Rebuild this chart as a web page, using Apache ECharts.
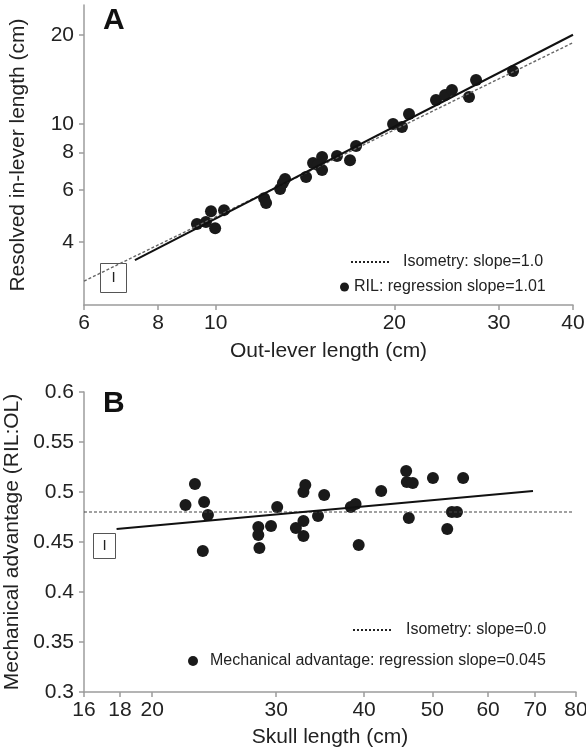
<!DOCTYPE html>
<html>
<head>
<meta charset="utf-8">
<script src="https://cdn.jsdelivr.net/npm/echarts@6/dist/echarts.min.js"></script>
<style>
  html, body { margin: 0; padding: 0; background: #fff; }
  #chart { width: 586px; height: 750px; }
</style>
</head>
<body>
<div id="chart"></div>
<script>
// Panel A: resolved in-lever vs out-lever (log-log)
var outLeverA = [9.30, 9.63, 9.82, 9.98, 10.33, 12.07, 12.16, 12.84, 12.98, 13.09, 14.20, 14.59, 15.11,
  15.11, 14.87, 16.01, 16.84, 17.24, 19.90, 20.60, 21.17, 23.51, 24.35, 25.01, 26.72, 27.46, 31.70];
var inLeverA = [4.60, 4.67, 5.08, 4.45, 5.12, 5.62, 5.41, 6.03, 6.32, 6.52, 6.62, 7.38, 7.73,
  6.99, 7.27, 7.80, 7.55, 8.43, 10.0, 9.77, 10.81, 12.05, 12.53, 13.03, 12.34, 14.08, 15.10];
var isoLineAX = [6, 40];
var isoLineAY = [2.95, 18.8];
var regLineAX = [7.31, 40];
var regLineAY = [3.47, 20.0];
var xTicksA = [6, 8, 10, 20, 30, 40];
var yTicksA = [4, 6, 8, 10, 20];

// Panel B: mechanical advantage vs skull length
var skullB = [22.3, 23.0, 23.7, 24.0, 23.6, 28.3, 28.3, 28.4, 29.5, 30.1, 32.0, 32.8, 32.8, 32.8, 33.0,
  34.4, 35.1, 38.3, 38.9, 39.3, 42.3, 45.9, 46.0, 46.9, 46.3, 50.1, 52.5, 53.3, 54.2, 55.3];
var mechAdvB = [0.487, 0.508, 0.490, 0.477, 0.441, 0.465, 0.457, 0.444, 0.466, 0.485, 0.464, 0.471, 0.456, 0.500, 0.507,
  0.476, 0.497, 0.485, 0.488, 0.447, 0.501, 0.521, 0.510, 0.509, 0.474, 0.514, 0.463, 0.480, 0.480, 0.514];
var isoLineBX = [16, 79];
var isoLineBY = [0.48, 0.48];
var regLineBX = [17.8, 69.5];
var regLineBY = [0.463, 0.501];
var xTicksB = [16, 18, 20, 30, 40, 50, 60, 70, 80];

var FONT = 'Liberation Sans, Arial, sans-serif';
var AXIS_GRAY = '#9c9c9c';
var TEXT = '#222';

function pairs(xs, ys) {
  return xs.map(function (x, i) { return [x, ys[i]]; });
}

var _axisLine = { lineStyle: { color: AXIS_GRAY, width: 1.5 } };
var _axisTick = { length: 5, lineStyle: { color: AXIS_GRAY, width: 1.5 } };
var _label = { color: TEXT, fontSize: 21, fontFamily: FONT };
var _name = { color: TEXT, fontSize: 21, fontFamily: FONT };
var _legendText = { color: TEXT, fontSize: 16, fontFamily: FONT };
var _legendDots = { color: '#222', width: 2, type: 'dotted' };

function logAxis(gridIndex, min, max, ticks, extra) {
  return Object.assign({
    type: 'log',
    gridIndex: gridIndex,
    min: min,
    max: max,
    axisLine: _axisLine,
    axisTick: Object.assign({ customValues: ticks }, _axisTick),
    axisLabel: Object.assign({ customValues: ticks, margin: 8 }, _label),
    splitLine: { show: false },
    minorTick: { show: false }
  }, extra || {});
}

var chart = echarts.init(document.getElementById('chart'), null, { renderer: 'canvas' });

chart.setOption({
  backgroundColor: '#fff',
  animation: false,
  grid: [
    { left: 84, right: 13, top: 5, height: 300, outerBoundsMode: 'none', containLabel: false },
    { left: 84, right: 10, top: 392, height: 300, outerBoundsMode: 'none', containLabel: false }
  ],
  xAxis: [
    logAxis(0, 6, 40, xTicksA, {
      name: 'Out-lever length (cm)', nameLocation: 'middle', nameGap: 36,
      nameTextStyle: _name
    }),
    logAxis(1, 16, 80, xTicksB, {
      name: 'Skull length (cm)', nameLocation: 'middle', nameGap: 35,
      nameTextStyle: _name
    })
  ],
  yAxis: [
    logAxis(0, 2.45, 25.2, yTicksA, {
      name: 'Resolved in-lever length (cm)', nameLocation: 'middle', nameGap: 55,
      nameTextStyle: _name,
      axisLabel: Object.assign({ customValues: yTicksA, margin: 10 }, _label)
    }),
    {
      type: 'value',
      gridIndex: 1,
      min: 0.3,
      max: 0.6,
      interval: 0.05,
      name: 'Mechanical advantage (RIL:OL)', nameLocation: 'middle', nameGap: 55,
      nameTextStyle: _name,
      axisLine: { show: true, lineStyle: { color: AXIS_GRAY, width: 1.5 } },
      axisTick: Object.assign({ show: true }, _axisTick),
      axisLabel: Object.assign({ margin: 10 }, _label),
      splitLine: { show: false }
    }
  ],
  legend: [
    {
      data: ['Isometry: slope=1.0'], left: 345, top: 249, itemWidth: 38, itemHeight: 14,
      itemStyle: { opacity: 0 },
      lineStyle: _legendDots,
      textStyle: Object.assign({ padding: [0, 0, 0, 9] }, _legendText)
    },
    {
      data: [{ name: 'RIL: regression slope=1.01', icon: 'circle' }], left: 335, top: 274, itemWidth: 9, itemHeight: 9,
      textStyle: _legendText
    },
    {
      data: ['Isometry: slope=0.0'], left: 347, top: 617, itemWidth: 38, itemHeight: 14,
      itemStyle: { opacity: 0 },
      lineStyle: _legendDots,
      textStyle: Object.assign({ padding: [0, 0, 0, 10] }, _legendText)
    },
    {
      data: [{ name: 'Mechanical advantage: regression slope=0.045', icon: 'circle' }], left: 183, top: 648, itemWidth: 10, itemHeight: 10,
      textStyle: Object.assign({ padding: [0, 0, 0, 7] }, _legendText)
    }
  ],
  graphic: [
    { type: 'text', left: 103, top: 6, z: 100, style: { text: 'A', font: 'bold 30px ' + FONT, fill: '#111' } },
    { type: 'text', left: 103, top: 389, z: 100, style: { text: 'B', font: 'bold 30px ' + FONT, fill: '#111' } },
    {
      type: 'group', left: 100, top: 263, z: 100, children: [
        { type: 'rect', shape: { x: 0, y: 0, width: 26, height: 29 }, style: { fill: '#fff', stroke: '#555', lineWidth: 1 } },
        { type: 'text', x: 13, y: 14.5, style: { text: 'I', font: '15px ' + FONT, fill: TEXT, align: 'center', verticalAlign: 'middle' } }
      ]
    },
    {
      type: 'group', left: 93, top: 533, z: 100, children: [
        { type: 'rect', shape: { x: 0, y: 0, width: 22, height: 25 }, style: { fill: '#fff', stroke: '#555', lineWidth: 1 } },
        { type: 'text', x: 11, y: 12.5, style: { text: 'I', font: '15px ' + FONT, fill: TEXT, align: 'center', verticalAlign: 'middle' } }
      ]
    }
  ],
  series: [
    {
      name: 'Isometry: slope=1.0', type: 'line', xAxisIndex: 0, yAxisIndex: 0,
      data: pairs(isoLineAX, isoLineAY), symbol: 'none',
      lineStyle: { color: '#666', width: 1.4, type: [3, 2] }, itemStyle: { color: '#666' }
    },
    {
      name: 'RIL regression', type: 'line', xAxisIndex: 0, yAxisIndex: 0,
      data: pairs(regLineAX, regLineAY), symbol: 'none',
      lineStyle: { color: '#111', width: 2 }
    },
    {
      name: 'RIL: regression slope=1.01', type: 'scatter', xAxisIndex: 0, yAxisIndex: 0,
      data: pairs(outLeverA, inLeverA), symbolSize: 12,
      itemStyle: { color: '#1a1a1a', opacity: 1 }
    },
    {
      name: 'Isometry: slope=0.0', type: 'line', xAxisIndex: 1, yAxisIndex: 1,
      data: pairs(isoLineBX, isoLineBY), symbol: 'none',
      lineStyle: { color: '#444', width: 1.2, type: [3, 2] }, itemStyle: { color: '#444' }
    },
    {
      name: 'MA regression', type: 'line', xAxisIndex: 1, yAxisIndex: 1,
      data: pairs(regLineBX, regLineBY), symbol: 'none',
      lineStyle: { color: '#111', width: 2 }
    },
    {
      name: 'Mechanical advantage: regression slope=0.045', type: 'scatter', xAxisIndex: 1, yAxisIndex: 1,
      data: pairs(skullB, mechAdvB), symbolSize: 12,
      itemStyle: { color: '#1a1a1a', opacity: 1 }
    }
  ]
});
</script>
</body>
</html>
